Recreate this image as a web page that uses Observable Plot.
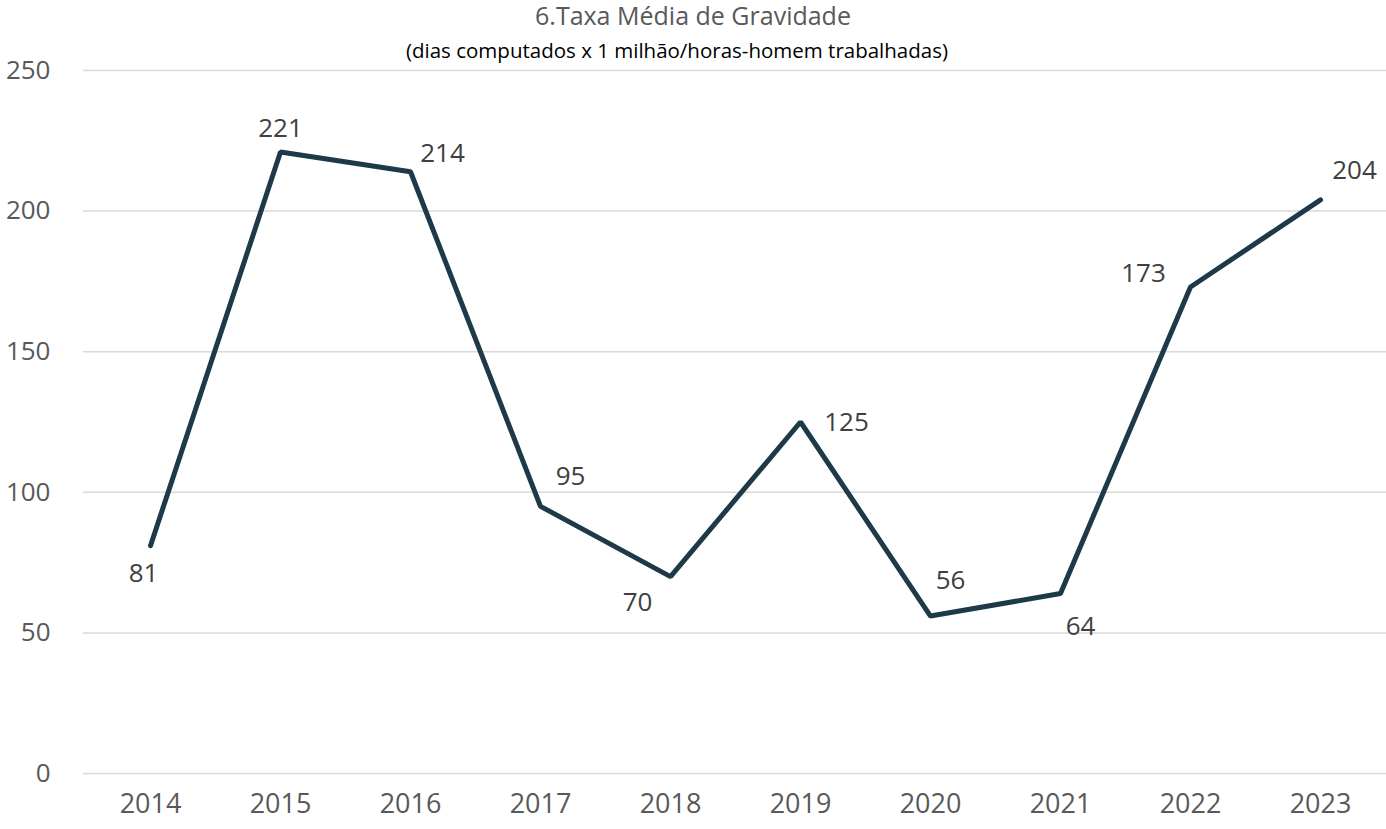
<!DOCTYPE html>
<html>
<head>
<meta charset="utf-8">
<script src="https://cdn.jsdelivr.net/npm/d3@7"></script>
<script src="https://cdn.jsdelivr.net/npm/@observablehq/plot@0.6"></script>
<style>
  html, body { margin: 0; padding: 0; background: #fff; }
  #wrap { position: relative; width: 1386px; height: 829px; font-family: "Open Sans", sans-serif; }
  #title { position: absolute; left: 0; top: 0; width: 1386px; height: 30px; line-height: 30px; text-align: center; font-size: 25px; color: #595959; }
  #subtitle { position: absolute; left: 0; top: 36px; width: 1354px; height: 28px; line-height: 28px; text-align: center; font-size: 20.5px; color: #000; }
  #chart { position: absolute; left: 0; top: 0; }
</style>
</head>
<body>
<div id="wrap">
  <div id="chart"></div>
  <div id="title">6.Taxa Média de Gravidade</div>
  <div id="subtitle">(dias computados x 1 milhão/horas-homem trabalhadas)</div>
</div>
<script>
const years = ["2014","2015","2016","2017","2018","2019","2020","2021","2022","2023"];
const values = [81, 221, 214, 95, 70, 125, 56, 64, 173, 204];
const yTicks = [0, 50, 100, 150, 200, 250];

// label placement (styling only)
const labelDx = [-7, 0, 32, 30, -33, 46, 20, 20, -47, 34];
const labelDy = [28, -23, -18, -30, 26, 1, -35, 33, -13, -29];

const data = years.map((y, i) => ({year: y, value: values[i], dx: labelDx[i], dy: labelDy[i]}));

const labelMarks = data.map(d => Plot.text([d], {
  x: "year", y: "value", text: d => String(d.value),
  dx: d.dx, dy: d.dy,
  fill: "#404040", fontSize: 26, fontFamily: "Open Sans"
}));

const chart = Plot.plot({
  width: 1386,
  height: 829,
  marginTop: 70,
  marginBottom: 56,
  marginLeft: 83,
  marginRight: 0,
  style: {fontFamily: "Open Sans", background: "transparent"},
  x: {type: "point", domain: years, padding: 0.5, label: null},
  y: {domain: [0, 250], label: null},
  marks: [
    Plot.gridY(yTicks, {stroke: "#d9d9d9", strokeOpacity: 1, strokeWidth: 1.5}),
    Plot.axisY(yTicks, {tickSize: 0, tickPadding: 33, fontSize: 26, fill: "#595959", label: null}),
    Plot.axisX(years, {tickSize: 0, tickPadding: 20, fontSize: 27, fill: "#595959", label: null}),
    Plot.line(data, {x: "year", y: "value", stroke: "#1e3a48", strokeWidth: 5, strokeLinejoin: "miter", strokeLinecap: "round"}),
    ...labelMarks
  ]
});
document.getElementById("chart").appendChild(chart);
</script>
</body>
</html>
